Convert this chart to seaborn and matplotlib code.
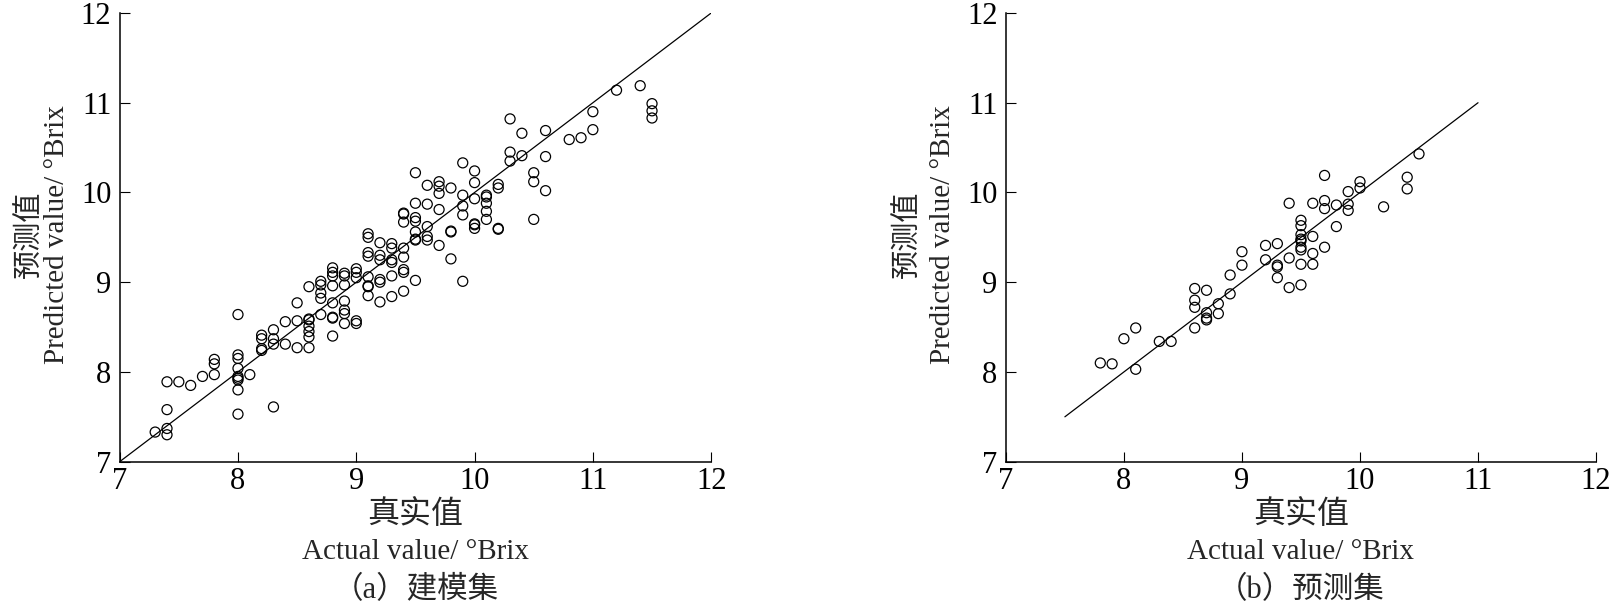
import matplotlib
matplotlib.use("Agg")
import matplotlib.pyplot as plt
import seaborn as sns

# (a) 建模集 - calibration set, actual vs predicted (°Brix)
cal_actual = [7.3,
              7.4, 7.4, 7.4, 7.4,
              7.5, 7.6, 7.7,
              7.8, 7.8, 7.8,
              8.0, 8.0, 8.0, 8.0, 8.0, 8.0, 8.0, 8.0, 8.0,
              8.1,
              8.2, 8.2, 8.2, 8.2,
              8.3, 8.3, 8.3, 8.3,
              8.4, 8.4,
              8.5, 8.5, 8.5,
              8.6, 8.6, 8.6, 8.6, 8.6, 8.6, 8.6,
              8.7, 8.7, 8.7, 8.7, 8.7,
              8.8, 8.8, 8.8, 8.8, 8.8, 8.8, 8.8, 8.8,
              8.9, 8.9, 8.9, 8.9, 8.9, 8.9, 8.9,
              9.0, 9.0, 9.0, 9.0, 9.0,
              9.1, 9.1, 9.1, 9.1, 9.1, 9.1, 9.1, 9.1,
              9.2, 9.2, 9.2, 9.2, 9.2, 9.2,
              9.3, 9.3, 9.3, 9.3, 9.3, 9.3,
              9.4, 9.4, 9.4, 9.4, 9.4, 9.4, 9.4, 9.4,
              9.5, 9.5, 9.5, 9.5, 9.5, 9.5, 9.5, 9.5,
              9.6, 9.6, 9.6, 9.6, 9.6,
              9.7, 9.7, 9.7, 9.7, 9.7,
              9.8, 9.8, 9.8, 9.8,
              9.9, 9.9, 9.9, 9.9, 9.9,
              10.0, 10.0, 10.0, 10.0, 10.0, 10.0,
              10.1, 10.1, 10.1, 10.1, 10.1,
              10.2, 10.2, 10.2, 10.2,
              10.3, 10.3, 10.3,
              10.4, 10.4,
              10.5, 10.5, 10.5,
              10.6, 10.6, 10.6,
              10.8, 10.9,
              11.0, 11.0,
              11.2, 11.4,
              11.5, 11.5, 11.5]
cal_pred = [7.33,
            7.89, 7.58, 7.37, 7.30,
            7.89, 7.85, 7.95,
            7.97, 8.09, 8.14,
            8.64, 8.19, 8.15, 8.04, 7.95, 7.93, 7.91, 7.80, 7.53,
            7.97,
            8.41, 8.37, 8.26, 8.24,
            8.47, 8.37, 8.31, 7.61,
            8.56, 8.31,
            8.77, 8.57, 8.27,
            8.95, 8.59, 8.58, 8.51, 8.45, 8.39, 8.27,
            9.01, 8.97, 8.88, 8.82, 8.64,
            9.16, 9.11, 9.07, 8.96, 8.77, 8.61, 8.60, 8.40,
            9.10, 9.07, 8.97, 8.79, 8.69, 8.65, 8.54,
            9.15, 9.11, 9.05, 8.57, 8.54,
            9.54, 9.50, 9.33, 9.29, 9.06, 8.96, 8.95, 8.85,
            9.44, 9.30, 9.25, 9.03, 9.00, 8.78,
            9.43, 9.38, 9.25, 9.22, 9.07, 8.84,
            9.77, 9.76, 9.67, 9.38, 9.28, 9.14, 9.11, 8.90,
            10.22, 9.88, 9.72, 9.68, 9.56, 9.48, 9.47, 9.02,
            10.08, 9.87, 9.62, 9.51, 9.47,
            10.12, 10.07, 9.99, 9.81, 9.41,
            10.05, 9.57, 9.56, 9.26,
            10.33, 9.97, 9.85, 9.75, 9.01,
            10.24, 10.11, 9.93, 9.65, 9.64, 9.60,
            9.97, 9.95, 9.88, 9.79, 9.70,
            10.09, 10.05, 9.60, 9.59,
            10.82, 10.45, 10.35,
            10.66, 10.41,
            10.22, 10.12, 9.70,
            10.69, 10.40, 10.02,
            10.59, 10.61,
            10.90, 10.70,
            11.14, 11.19,
            10.99, 10.91, 10.83]

# (b) 预测集 - prediction set
val_actual = [7.8, 7.9, 8.0, 8.1, 8.1, 8.3, 8.4,
              8.6, 8.6, 8.6, 8.6,
              8.7, 8.7, 8.7, 8.7,
              8.8, 8.8, 8.9, 8.9,
              9.0, 9.0, 9.2, 9.2,
              9.3, 9.3, 9.3, 9.3,
              9.4, 9.4, 9.4,
              9.5, 9.5, 9.5, 9.5, 9.5, 9.5, 9.5, 9.5, 9.5,
              9.6, 9.6, 9.6, 9.6,
              9.7, 9.7, 9.7, 9.7,
              9.8, 9.8,
              9.9, 9.9, 9.9,
              10.0, 10.0,
              10.2, 10.4, 10.4, 10.5]
val_pred = [8.10, 8.09, 8.37, 8.49, 8.03, 8.34, 8.34,
            8.93, 8.80, 8.72, 8.49,
            8.91, 8.66, 8.60, 8.58,
            8.76, 8.65, 9.08, 8.87,
            9.34, 9.19, 9.41, 9.25,
            9.43, 9.19, 9.17, 9.05,
            9.88, 9.27, 8.94,
            9.69, 9.63, 9.53, 9.48, 9.46, 9.39, 9.36, 9.20, 8.97,
            9.88, 9.51, 9.32, 9.20,
            10.19, 9.91, 9.82, 9.39,
            9.86, 9.62,
            10.01, 9.87, 9.80,
            10.12, 10.05,
            9.84, 10.17, 10.04, 10.43]

# 1:1 reference lines
cal_line = [7, 12]
val_line = [7.5, 11]
axis_ticks = [7, 8, 9, 10, 11, 12]

sns.set_style("ticks")
plt.rcParams['font.family'] = ['Liberation Serif', 'Noto Sans CJK SC']
plt.rcParams['axes.unicode_minus'] = False

fig = plt.figure(figsize=(16.13, 6.05), dpi=100)
ax1 = fig.add_axes([0.0742, 0.2369, 0.3667, 0.7416])
ax2 = fig.add_axes([0.6236, 0.2369, 0.3659, 0.7416])

panels = [
    (ax1, cal_actual, cal_pred, cal_line, "（a）建模集", 0.2575, 0.0179, 0.0351),
    (ax2, val_actual, val_pred, val_line, "（b）预测集", 0.8065, 0.5626, 0.5848),
]

for ax, xs, ys, ln, cap, cx, yl1, yl2 in panels:
    sns.lineplot(x=ln, y=ln, ax=ax, color='black', linewidth=0.9)
    sns.scatterplot(x=xs, y=ys, ax=ax, marker='o', s=52,
                    facecolor='none', edgecolor='black', linewidth=0.9)
    ax.set_xlim(7, 12)
    ax.set_ylim(7, 12)
    ax.set_xticks(axis_ticks)
    ax.set_yticks(axis_ticks)
    ax.set_xlabel('')
    ax.set_ylabel('')
    sns.despine(ax=ax)
    for s in ['left', 'bottom']:
        ax.spines[s].set_linewidth(1.1)
        ax.spines[s].set_color('black')
    ax.tick_params(direction='in', length=7, width=0.8, labelsize=22,
                   colors='black')
    ax.tick_params(axis='x', pad=4)
    ax.tick_params(axis='y', pad=6)

    fig.text(cx, 0.148, "真实值", ha='center', va='center', fontsize=23)
    fig.text(cx, 0.087, "Actual value/ °Brix", ha='center', va='center', fontsize=21)
    fig.text(cx, 0.024, cap, ha='center', va='center', fontsize=22)
    fig.text(yl1, 0.612, "预测值", ha='center', va='center', rotation=90, fontsize=21)
    fig.text(yl2, 0.612, "Predicted value/ °Brix", ha='center', va='center',
             rotation=90, fontsize=21)

fig.savefig("out.png", dpi=100)
